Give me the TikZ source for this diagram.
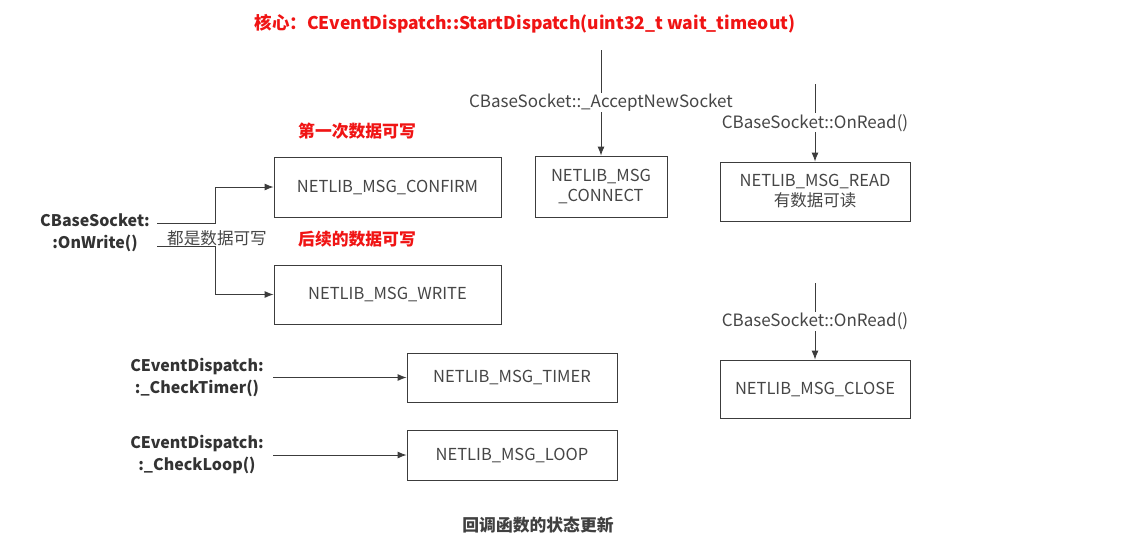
\documentclass[tikz,border=0pt]{standalone}
\usepackage{fontspec}
\setmainfont{Noto Sans CJK SC}
\definecolor{cbred}{RGB}{240,20,20}
\definecolor{cbline}{RGB}{60,60,60}
\definecolor{cbtext}{RGB}{70,70,70}
\usetikzlibrary{arrows.meta,positioning}

\begin{document}
\begin{tikzpicture}[x=1pt,y=-1pt,
  msgbox/.style={draw=cbline,line width=0.9pt,align=center,text=cbtext,
    font=\fontsize{16.5}{20}\selectfont,inner sep=2pt},
  conn/.style={draw=cbline,line width=0.9pt,-{Latex[length=9pt,width=7pt]}},
  fname/.style={font=\fontsize{16}{22}\selectfont\bfseries,text=black!80,align=center},
  onlbl/.style={fill=white,inner sep=1pt,text=cbtext,font=\fontsize{17}{20}\selectfont},
  note/.style={font=\fontsize{16.8}{20}\selectfont\bfseries,text=cbred}
]
  \useasboundingbox[fill=white] (0,0) rectangle (1146,552);

  % title
  \node[font=\fontsize{17.5}{20}\selectfont\bfseries,text=cbred] (title) at (525,24)
    {核心：CEventDispatch::StartDispatch(uint32\_t wait\_timeout)};

  % write side
  \node[msgbox,minimum width=227,minimum height=60] (confirm) at (387.5,187) {NETLIB\_MSG\_CONFIRM};
  \node[msgbox,minimum width=227,minimum height=59] (write) at (387.5,294.5) {NETLIB\_MSG\_WRITE};
  \node[note] (first) at (357,131) {第一次数据可写};
  \node[note] (later) at (357,239) {后续的数据可写};
  \node[fname] (onwrite) at (95,233) {CBaseSocket:\\:OnWrite()};
  \coordinate (ow1) at (157,223);
  \coordinate (ow2) at (157,246);
  \coordinate (bend1) at (215,223);
  \coordinate (bend2) at (215,246);
  \draw[conn] (ow1) -- (bend1) |- (confirm.west);
  \draw[conn] (ow2) -- (bend2) |- (write.west);
  \node[text=cbtext,font=\fontsize{16.6}{20}\selectfont] (allw) at (217,238) {都是数据可写};

  % accept
  \node[msgbox,minimum width=132,minimum height=61] (connect) at (601,186.5) {NETLIB\_MSG\\\_CONNECT};
  \coordinate (acc) at (601,50);
  \draw[conn] (acc) -- node[onlbl] {CBaseSocket::\_AcceptNewSocket} (connect.north);

  % read / close
  \node[msgbox,minimum width=190,minimum height=59] (read) at (815,191.5) {NETLIB\_MSG\_READ\\有数据可读};
  \coordinate (rd) at (815,84);
  \draw[conn] (rd) -- node[onlbl] {CBaseSocket::OnRead()} (read.north);
  \node[msgbox,minimum width=190,minimum height=58] (close) at (815,389) {NETLIB\_MSG\_CLOSE};
  \coordinate (cl) at (815,283);
  \draw[conn] (cl) -- node[onlbl] {CBaseSocket::OnRead()} (close.north);

  % timer / loop
  \node[msgbox,minimum width=210,minimum height=49] (timer) at (512,377.5) {NETLIB\_MSG\_TIMER};
  \node[msgbox,minimum width=210,minimum height=50] (loop) at (512,455) {NETLIB\_MSG\_LOOP};
  \node[fname] (chktimer) at (197,377.5) {CEventDispatch:\\:\_CheckTimer()};
  \node[fname] (chkloop) at (197,455) {CEventDispatch:\\:\_CheckLoop()};
  \draw[conn] ([xshift=6pt]chktimer.east) -- (timer.west);
  \draw[conn] ([xshift=6pt]chkloop.east) -- (loop.west);

  % caption
  \node[font=\fontsize{16.8}{20}\selectfont\bfseries,text=black!75] (caption) at (538,525) {回调函数的状态更新};
\end{tikzpicture}
\end{document}
